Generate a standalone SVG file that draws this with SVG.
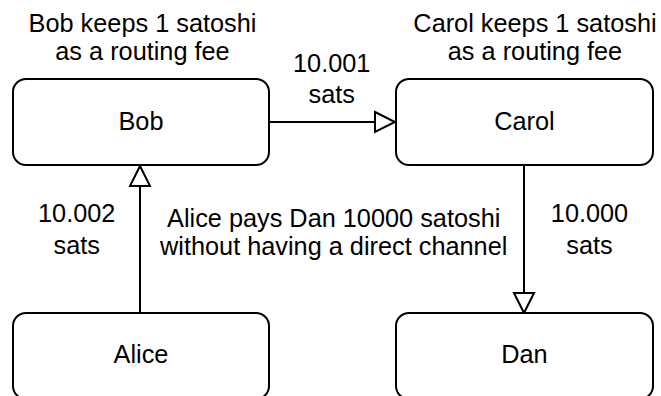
<svg xmlns="http://www.w3.org/2000/svg" width="661" height="396" viewBox="0 0 661 396">
  <style>
    .box { fill: #ffffff; stroke: #000000; stroke-width: 2; }
    .edge { fill: none; stroke: #000000; stroke-width: 2; marker-end: url(#openArrow); }
    text { font-family: "Liberation Sans", Arial, Helvetica, sans-serif; font-size: 25.3px; fill: #000000; text-anchor: middle; }
  </style>
  <defs>
    <!-- hollow triangular arrowhead, tip sits on the line end -->
    <marker id="openArrow" viewBox="0 0 20 20" refX="20" refY="10" markerWidth="20" markerHeight="20" markerUnits="userSpaceOnUse" orient="auto" overflow="visible">
      <path d="M0,0 L20,10 L0,20 Z" fill="#ffffff" stroke="#000000" stroke-width="2" stroke-linejoin="miter"/>
    </marker>
  </defs>

  <rect width="661" height="396" fill="#ffffff"/>

  <!-- connectors -->
  <g id="connectors">
    <line class="edge" x1="269" y1="122" x2="395" y2="122"/>
    <line class="edge" x1="140" y1="313" x2="140" y2="166"/>
    <line class="edge" x1="524" y1="165" x2="524" y2="313"/>
  </g>

  <!-- payment amounts along the route -->
  <g id="edge-labels">
    <text x="331.7" y="72.3">10.001</text>
    <text x="331.7" y="103.3">sats</text>
    <text x="76.7" y="222.3">10.002</text>
    <text x="76.7" y="254">sats</text>
    <text x="589.5" y="222.3">10.000</text>
    <text x="589.5" y="253.5">sats</text>
  </g>

  <g id="bob">
    <rect class="box" x="13" y="79" width="256" height="86" rx="13" ry="13"/>
    <text x="141" y="129.5">Bob</text>
  </g>

  <g id="carol">
    <rect class="box" x="396" y="79" width="257" height="86" rx="13" ry="13"/>
    <text x="524.5" y="129.5">Carol</text>
  </g>

  <g id="alice">
    <rect class="box" x="13" y="313" width="256" height="86" rx="13" ry="13"/>
    <text x="141" y="363.3">Alice</text>
  </g>

  <g id="dan">
    <rect class="box" x="396" y="313" width="257" height="86" rx="13" ry="13"/>
    <text x="524.5" y="363.3">Dan</text>
  </g>

  <!-- notes -->
  <g id="bob-fee-note">
    <text x="142.5" y="31.7">Bob keeps 1 satoshi</text>
    <text x="142.5" y="59.5">as a routing fee</text>
  </g>

  <g id="carol-fee-note">
    <text x="535" y="31.7">Carol keeps 1 satoshi</text>
    <text x="535" y="59.5">as a routing fee</text>
  </g>

  <g id="payment-note">
    <text x="333.7" y="227">Alice pays Dan 10000 satoshi</text>
    <text x="333.7" y="254.5">without having a direct channel</text>
  </g>
</svg>
